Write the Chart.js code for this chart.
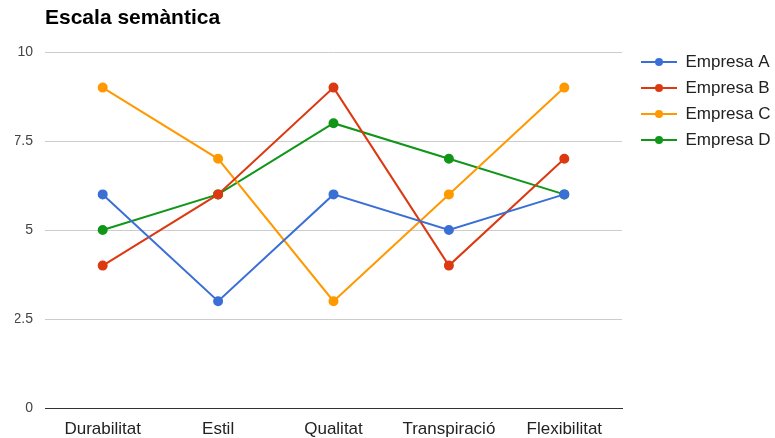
<!DOCTYPE html>
<html>
<head>
<meta charset="utf-8">
<script src="https://cdn.jsdelivr.net/npm/chart.js@4/dist/chart.umd.min.js"></script>
<style>
  html, body { margin: 0; padding: 0; background: #fff; }
  #wrap { width: 775px; height: 438px; }
</style>
</head>
<body>
<div id="wrap"><canvas id="chart"></canvas></div>
<script>
const categories = ['Durabilitat', 'Estil', 'Qualitat', 'Transpiració', 'Flexibilitat'];
const empresaA = [6, 3, 6, 5, 6];
const empresaB = [4, 6, 9, 4, 7];
const empresaC = [9, 7, 3, 6, 9];
const empresaD = [5, 6, 8, 7, 6];
const seriesNames = ['Empresa A', 'Empresa B', 'Empresa C', 'Empresa D'];
const seriesColors = ['#3a6fd6', '#dc3912', '#ff9900', '#109618'];
const yTicks = [0, 2.5, 5, 7.5, 10];

const FONT = "Arial, 'Liberation Sans', sans-serif";

// legend marker: short line with a dot in the middle
function legendMarker(color) {
    const c = document.createElement('canvas');
    c.width = 36;
    c.height = 12;
    const ctx = c.getContext('2d');
    ctx.strokeStyle = color;
    ctx.lineWidth = 2;
    ctx.beginPath();
    ctx.moveTo(0, 6);
    ctx.lineTo(36, 6);
    ctx.stroke();
    ctx.fillStyle = color;
    ctx.beginPath();
    ctx.arc(18, 6, 4, 0, Math.PI * 2);
    ctx.fill();
    return c;
}

const values = [empresaA, empresaB, empresaC, empresaD];

new Chart(document.getElementById('chart'), {
    type: 'line',
    data: {
        labels: categories,
        datasets: values.map((v, i) => ({
            label: seriesNames[i],
            data: v,
            borderColor: seriesColors[i],
            backgroundColor: seriesColors[i],
            borderWidth: 2,
            pointRadius: 4,
            pointHoverRadius: 4,
            tension: 0,
            fill: false,
            pointStyle: 'circle',
            legendMarker: legendMarker(seriesColors[i])
        }))
    },
    options: {
        responsive: true,
        maintainAspectRatio: false,
        animation: false,
        layout: { padding: { left: 15, right: 0, bottom: 0 } },
        plugins: {
            title: {
                display: true,
                fullSize: false,
                text: 'Escala semàntica',
                align: 'start',
                color: '#000',
                font: { family: FONT, size: 21, weight: 'bold' },
                padding: { top: 6, bottom: 20.8 }
            },
            legend: {
                position: 'right',
                align: 'start',
                fullSize: true,
                maxWidth: 143,
                title: {
                    display: true,
                    text: ' ',
                    font: { size: 1 },
                    padding: { top: 43.3, bottom: 0 }
                },
                labels: {
                    usePointStyle: true,
                    pointStyleWidth: 36,
                    padding: 9,
                    color: '#222',
                    font: { family: FONT, size: 17 },
                    generateLabels: (chart) => chart.data.datasets.map((ds, i) => ({
                        text: ds.label,
                        pointStyle: ds.legendMarker,
                        fillStyle: ds.borderColor,
                        strokeStyle: ds.borderColor,
                        lineWidth: 0,
                        hidden: false,
                        datasetIndex: i,
                        fontColor: '#222'
                    }))
                }
            },
            tooltip: { enabled: false }
        },
        scales: {
            x: {
                offset: true,
                grid: { display: false, drawTicks: false },
                border: { display: true, color: '#333', width: 1 },
                afterFit: (axis) => { axis.height = 30; },
                ticks: {
                    color: '#222',
                    padding: 11,
                    font: { family: FONT, size: 17 }
                }
            },
            y: {
                min: 0,
                max: 10,
                afterBuildTicks: (axis) => { axis.ticks = yTicks.map(v => ({ value: v })); },
                afterFit: (axis) => { axis.width = 30; },
                grid: {
                    drawTicks: false,
                    color: (ctx) => ctx.tick && ctx.tick.value === 0 ? '#333' : '#ccc'
                },
                border: { display: false },
                ticks: {
                    color: '#444',
                    padding: 12,
                    font: { family: FONT, size: 14 },
                    callback: (v) => String(v)
                }
            },
            // empty right-hand axis, only keeps a gap before the legend
            gap: {
                axis: 'y',
                position: 'right',
                display: true,
                grid: { display: false, drawTicks: false },
                border: { display: false },
                ticks: { display: false },
                afterFit: (axis) => { axis.width = 10; }
            }
        }
    }
});
</script>
</body>
</html>
